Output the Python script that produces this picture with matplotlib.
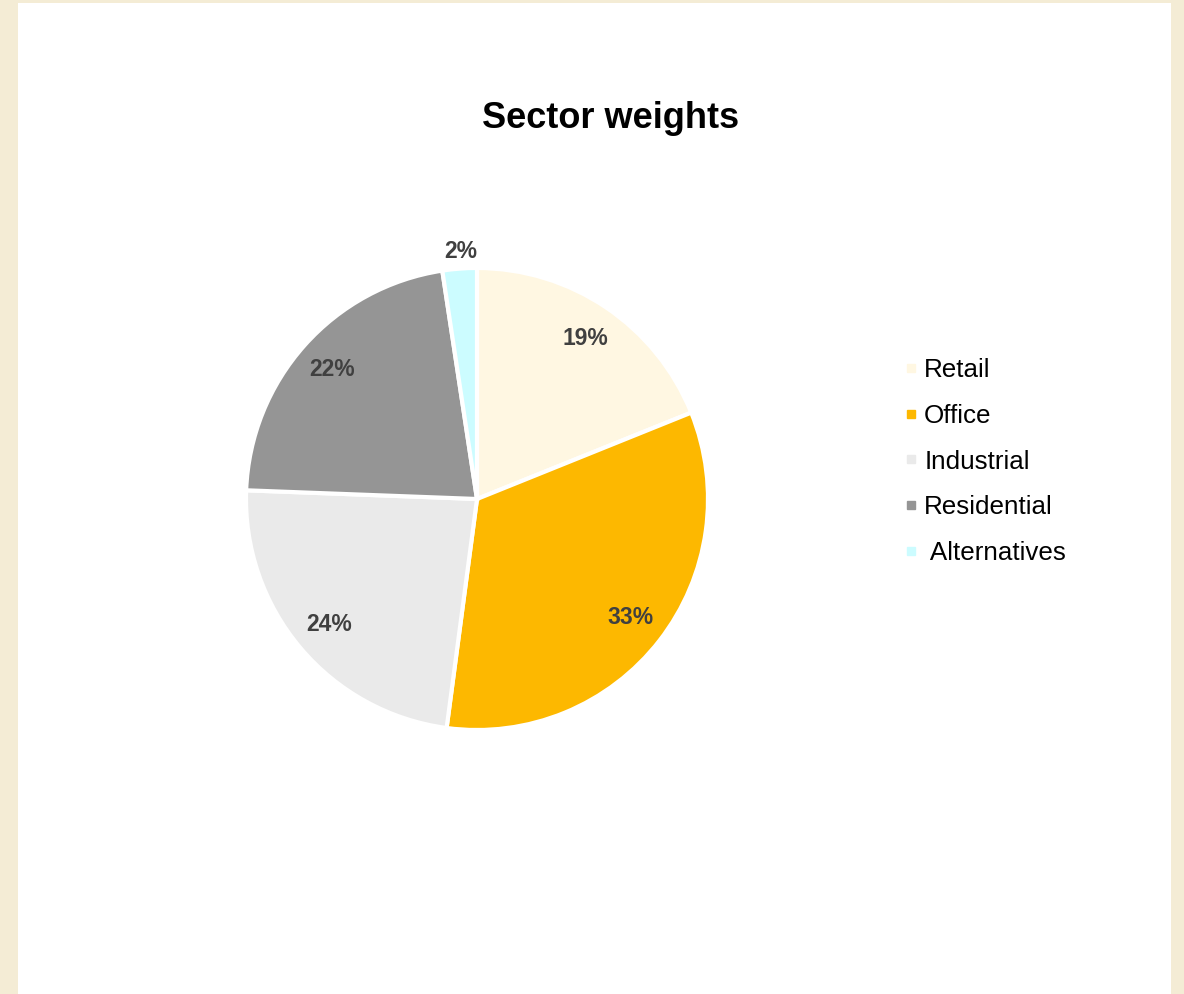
import matplotlib.pyplot as plt
from matplotlib.patches import Rectangle
from matplotlib.lines import Line2D

plt.rcParams['font.family'] = ['Liberation Sans', 'DejaVu Sans']

sectors = ['Retail', 'Office', 'Industrial', 'Residential', ' Alternatives']
weights = [18.9, 33.2, 23.5, 22.0, 2.4]
colors = ['#FFF7E2', '#FDB800', '#EAEAEA', '#959595', '#CCFCFF']

W, H = 1184, 994
fig = plt.figure(figsize=(W / 100, H / 100), dpi=100)
fig.patch.set_facecolor('#F4ECD5')

# white card behind everything
fig.patches.append(Rectangle((18 / W, 0), (1171 - 18) / W, 1 - 3 / H,
                             transform=fig.transFigure, facecolor='white',
                             edgecolor='none', zorder=-5))

# pie: centre (477, 499), radius ~231 px
r = 231
ax = fig.add_axes([(477 - r) / W, 1 - (499 + r) / H, 2 * r / W, 2 * r / H])
ax.patch.set_visible(False)
wedges, texts, autotexts = ax.pie(
    weights, colors=colors, startangle=90, counterclock=False,
    autopct=lambda p: f'{p:.0f}%', pctdistance=0.84,
    wedgeprops=dict(edgecolor='white', linewidth=3),
    textprops=dict(fontsize=16.5, fontweight='bold', color='#404040'))
ax.set_xlim(-1, 1)
ax.set_ylim(-1, 1)
ax.set_aspect('auto')

# small slice label sits outside
autotexts[-1].set_position((-0.07, 1.07))

fig.text(611 / W, 1 - 119 / H, 'Sector weights', ha='center', va='center',
         fontsize=26, fontweight='bold')

handles = [Line2D([], [], marker='s', linestyle='none', markersize=6,
                  markerfacecolor=c, markeredgecolor=c) for c in colors]
fig.legend(handles, sectors, loc='upper left',
           bbox_to_anchor=(893 / W, 1 - 348 / H), frameon=False,
           fontsize=18.7, handlelength=0.6, handletextpad=0.2,
           labelspacing=0.83, borderaxespad=0)

fig.savefig('out.png', dpi=100)
